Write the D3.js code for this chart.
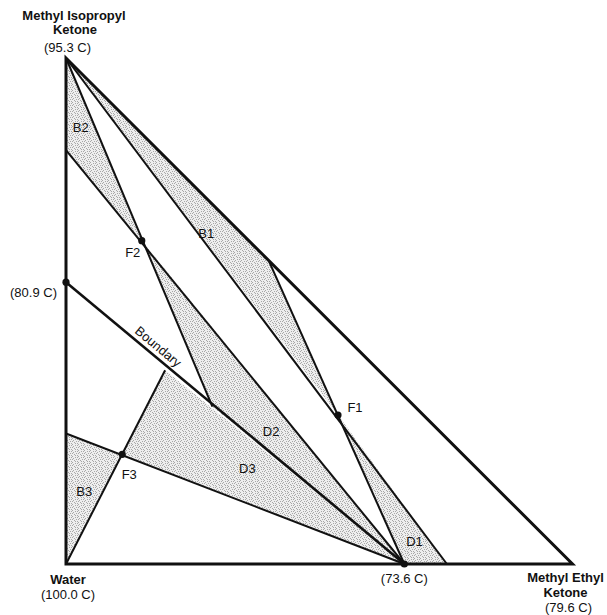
<!DOCTYPE html>
<html><head><meta charset="utf-8">
<script src="https://cdn.jsdelivr.net/npm/d3@7"></script>
<style>body{margin:0;background:#fff}svg{display:block}text{font-family:"Liberation Sans",Arial,sans-serif;fill:#111}</style>
</head><body>
<script>
// Compositions: [MEK fraction, MIK fraction]; water = 1 - MEK - MIK
const vertexNames = ["Water", "MEK", "MIK"];
const vertexComp = [[0, 0], [1, 0], [0, 1]];
const vertexLabels = [["Water", "(100.0 C)"], ["Methyl Ethyl", "Ketone", "(79.6 C)"], ["Methyl Isopropyl", "Ketone", "(95.3 C)"]];
const azeoNames = ["AZ1", "AZ2"];
const azeoComp = [[0.668, 0], [0, 0.557]];
const azeoLabels = ["(73.6 C)", "(80.9 C)"];
const feedNames = ["F1", "F2", "F3"];
const feedComp = [[0.537, 0.2945], [0.1496, 0.639], [0.111, 0.2168]];
const auxNames = ["P", "Q", "H", "L1", "L3", "BT"];
const auxComp = [[0.289, 0.311], [0.1957, 0.383], [0.4, 0.6], [0, 0.818], [0, 0.258], [0.752, 0]];
const innerLines = [["MIK", "P"], ["L1", "AZ1"], ["MIK", "BT"], ["H", "AZ1"], ["Water", "Q"], ["L3", "AZ1"]];
const boundaryLine = ["AZ2", "AZ1"];
const regionNames = ["B1", "B2", "B3", "D1", "D2", "D3"];
const regionPolys = [["MIK", "H", "F1"], ["MIK", "L1", "F2"], ["L3", "F3", "Water"], ["F1", "AZ1", "BT"], ["F2", "P", "AZ1"], ["F3", "Q", "AZ1"]];
const regionLabelComp = [[0.277, 0.655], [0.029, 0.864], [0.036, 0.144], [0.688, 0.046], [0.405, 0.262], [0.358, 0.19]];

const W = 607, H = 615;
const svg = d3.select("body").append("svg").attr("width", W).attr("height", H);
const x = d3.scaleLinear().domain([0, 1]).range([66, 572.5]);
const y = d3.scaleLinear().domain([0, 1]).range([564, 58]);

const pts = {};
[[vertexNames, vertexComp], [azeoNames, azeoComp], [feedNames, feedComp], [auxNames, auxComp]].forEach(([n, c]) => n.forEach((k, i) => pts[k] = c[i]));
const P = k => [x(pts[k][0]), y(pts[k][1])];

// stipple pattern
const defs = svg.append("defs");
const pat = defs.append("pattern").attr("id", "stip").attr("patternUnits", "userSpaceOnUse").attr("width", 6).attr("height", 6);
pat.append("rect").attr("width", 6).attr("height", 6).attr("fill", "#eeeeee");
[[0,0],[3,1],[1,2],[4,3],[2,4],[5,5],[0,3],[3,5],[5,1]].forEach(([a,b]) => pat.append("rect").attr("x", a).attr("y", b).attr("width", 1).attr("height", 1).attr("fill", "#a8a8a8"));

const line = d3.line();
svg.append("g").selectAll("path").data(regionPolys).join("path")
  .attr("d", d => line(d.map(P)) + "Z").attr("fill", "url(#stip)").attr("stroke", "none");

svg.append("g").selectAll("line").data(innerLines).join("line")
  .attr("x1", d => P(d[0])[0]).attr("y1", d => P(d[0])[1])
  .attr("x2", d => P(d[1])[0]).attr("y2", d => P(d[1])[1])
  .attr("stroke", "#111").attr("stroke-width", 2);

svg.append("line")
  .attr("x1", P(boundaryLine[0])[0]).attr("y1", P(boundaryLine[0])[1])
  .attr("x2", P(boundaryLine[1])[0]).attr("y2", P(boundaryLine[1])[1])
  .attr("stroke", "#111").attr("stroke-width", 2.6);

svg.append("path").attr("d", line(vertexNames.map(P)) + "Z")
  .attr("fill", "none").attr("stroke", "#111").attr("stroke-width", 3).attr("stroke-linejoin", "miter");

svg.append("g").selectAll("circle").data(feedNames.concat(azeoNames)).join("circle")
  .attr("cx", d => P(d)[0]).attr("cy", d => P(d)[1]).attr("r", 3.6).attr("fill", "#111");

const FS = 13;
// region labels
svg.append("g").selectAll("text").data(regionNames).join("text")
  .attr("x", (d, i) => x(regionLabelComp[i][0])).attr("y", (d, i) => y(regionLabelComp[i][1]) + 5)
  .attr("text-anchor", "middle").attr("font-size", FS).text(d => d);

// feed labels
const feedOff = [[17, -3], [-9, 16], [7, 25]];
svg.append("g").selectAll("text").data(feedNames).join("text")
  .attr("x", (d, i) => P(d)[0] + feedOff[i][0]).attr("y", (d, i) => P(d)[1] + feedOff[i][1])
  .attr("text-anchor", "middle").attr("font-size", FS).text(d => d);

// azeotrope labels
const a1 = P("AZ1"), a2 = P("AZ2");
svg.append("text").attr("x", a1[0]).attr("y", a1[1] + 19).attr("text-anchor", "middle").attr("font-size", FS).text(azeoLabels[0]);
svg.append("text").attr("x", a2[0] - 9).attr("y", a2[1] + 15).attr("text-anchor", "end").attr("font-size", FS).text(azeoLabels[1]);

// Boundary label along the line
const ang = Math.atan2(a1[1] - a2[1], a1[0] - a2[0]) * 180 / Math.PI;
const bx = a2[0] + (a1[0] - a2[0]) * 0.255, by = a2[1] + (a1[1] - a2[1]) * 0.255;
svg.append("text").attr("transform", `translate(${bx},${by}) rotate(${ang})`).attr("y", -5)
  .attr("text-anchor", "middle").attr("font-size", FS).text("Boundary");

// vertex labels
const wv = P("Water"), mv = P("MEK"), tv = P("MIK");
const wl = svg.append("g");
wl.append("text").attr("x", wv[0] + 2).attr("y", wv[1] + 20).attr("text-anchor", "middle").attr("font-size", FS).attr("font-weight", "bold").text(vertexLabels[0][0]);
wl.append("text").attr("x", wv[0] + 2).attr("y", wv[1] + 35).attr("text-anchor", "middle").attr("font-size", FS).text(vertexLabels[0][1]);
const ml = svg.append("g");
ml.append("text").attr("x", mv[0] - 7).attr("y", mv[1] + 18).attr("text-anchor", "middle").attr("font-size", FS).attr("font-weight", "bold").text(vertexLabels[1][0]);
ml.append("text").attr("x", mv[0] - 7).attr("y", mv[1] + 32.5).attr("text-anchor", "middle").attr("font-size", FS).attr("font-weight", "bold").text(vertexLabels[1][1]);
ml.append("text").attr("x", mv[0] - 4).attr("y", mv[1] + 48).attr("text-anchor", "middle").attr("font-size", FS).text(vertexLabels[1][2]);
const tl = svg.append("g");
tl.append("text").attr("x", tv[0] + 8).attr("y", tv[1] - 38.5).attr("text-anchor", "middle").attr("font-size", FS).attr("font-weight", "bold").text(vertexLabels[2][0]);
tl.append("text").attr("x", tv[0] + 9).attr("y", tv[1] - 24).attr("text-anchor", "middle").attr("font-size", FS).attr("font-weight", "bold").text(vertexLabels[2][1]);
tl.append("text").attr("x", tv[0] + 1.5).attr("y", tv[1] - 6).attr("text-anchor", "middle").attr("font-size", FS).text(vertexLabels[2][2]);
</script>
</body></html>
